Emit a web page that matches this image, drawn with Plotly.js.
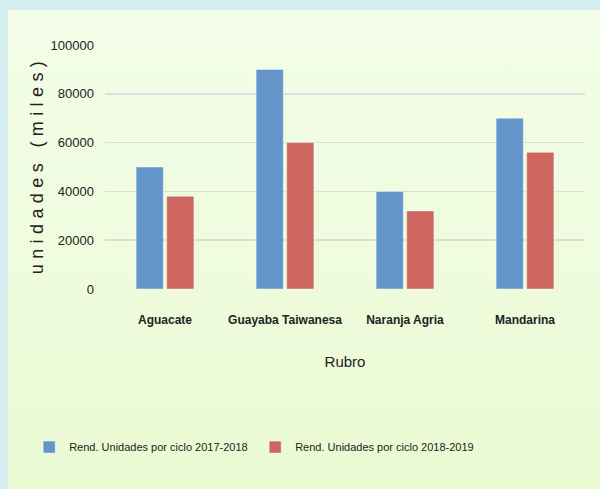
<!DOCTYPE html>
<html>
<head>
<meta charset="utf-8">
<script src="https://cdn.plot.ly/plotly-3.0.1.min.js"></script>
<style>
  html, body { margin:0; padding:0; width:600px; height:489px; overflow:hidden; background:#d5eef2; }
  #panel { position:absolute; left:8px; top:10px; width:592px; height:479px;
           background:linear-gradient(to bottom, #f3fde8 0%, #eafad3 100%); }
  #chart { position:absolute; left:0; top:0; width:600px; height:489px; }
  .ytitle { letter-spacing: 5.4px; translate: 2px -2px; }
</style>
</head>
<body>
<div id="panel"></div>
<div id="chart"></div>
<script>
var categories = ["Aguacate", "Guayaba Taiwanesa", "Naranja Agria", "Mandarina"];
var series1Name = "Rend. Unidades por ciclo 2017-2018";
var series2Name = "Rend. Unidades por ciclo 2018-2019";
var series1 = [50000, 90000, 40000, 70000];
var series2 = [38000, 60000, 32000, 56000];
var yTicks = [0, 20000, 40000, 60000, 80000, 100000];

var sans = "Liberation Sans, Arial, sans-serif";

var data = [
  { type:"bar", x:categories, y:series1, name:series1Name,
    marker:{ color:"#6395cb", line:{ color:"rgba(255,255,255,0.45)", width:1 } } },
  { type:"bar", x:categories, y:series2, name:series2Name,
    marker:{ color:"#cd665f", line:{ color:"rgba(255,255,255,0.45)", width:1 } } }
];

var layout = {
  width:600, height:489,
  paper_bgcolor:"rgba(0,0,0,0)", plot_bgcolor:"rgba(0,0,0,0)",
  margin:{ l:105, r:15, t:45, b:200 },
  barmode:"group", bargap:0.49, bargroupgap:0.11,
  font:{ family:sans, color:"#222" },
  xaxis:{
    tickangle:0, automargin:false,
    tickfont:{ family:sans, size:12, weight:"bold", color:"#222" },
    ticklabelstandoff:22,
    showline:false, showgrid:false, ticks:"",
    title:{ text:"Rubro", font:{ family:sans, size:15, color:"#222" }, standoff:30 }
  },
  yaxis:{
    range:[0,100000], tickvals:yTicks, ticktext:yTicks.map(String), automargin:false,
    tickfont:{ family:sans, size:13, color:"#222" },
    ticklabelstandoff:10,
    gridcolor:"#dcdcdc", gridwidth:1.5, zeroline:false, showline:false, ticks:"",
    title:{ text:"unidades (miles)", font:{ family:sans, size:18, color:"#222" }, standoff:4 }
  },
  legend:{ orientation:"h", x:-0.158, xanchor:"left", y:-0.648, yanchor:"middle",
    font:{ family:sans, size:11, color:"#222" }, itemwidth:30, entrywidth:181,
    traceorder:"normal", bgcolor:"rgba(0,0,0,0)" },
  showlegend:true
};

Plotly.newPlot("chart", data, layout, { displayModeBar:false, staticPlot:true });
</script>
</body>
</html>
